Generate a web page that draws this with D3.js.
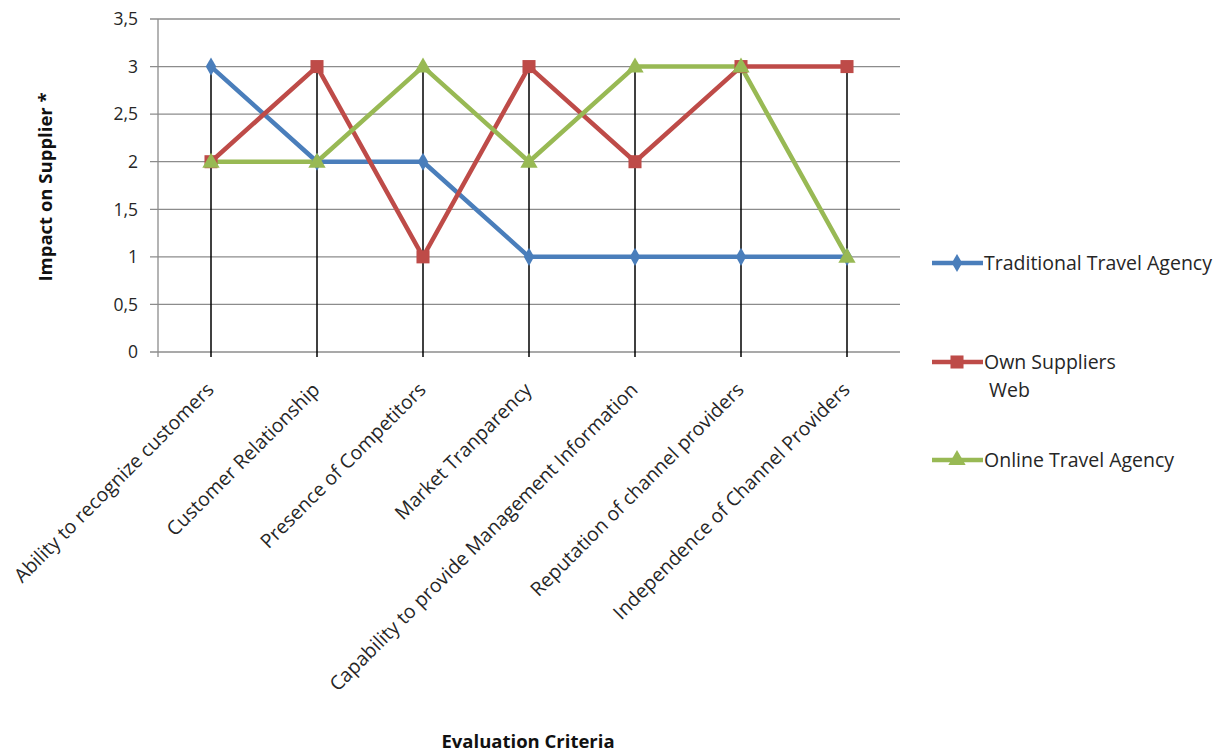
<!DOCTYPE html>
<html><head><meta charset="utf-8">
<script src="https://cdn.jsdelivr.net/npm/d3@7"></script>
<style>body{margin:0;background:#fff;} svg{display:block;font-family:"Open Sans",Lato,sans-serif;}</style>
</head><body><svg id="c" width="1229" height="752"></svg>
<script>
const categories = ["Ability to recognize customers","Customer Relationship","Presence of Competitors","Market Tranparency","Capability to provide Management Information","Reputation of channel providers","Independence of Channel Providers"];
const traditional = [3,2,2,1,1,1,1];
const ownWeb = [2,3,1,3,2,3,3];
const online = [2,2,3,2,3,3,1];
const yTicks = [0,0.5,1,1.5,2,2.5,3,3.5];
const seriesNames = ["Traditional Travel Agency","Own Suppliers Web","Online Travel Agency"];

const svg = d3.select("#c");
const L=158,R=900,T=19,B=352;
const x = d3.scaleBand().domain(categories).range([L,R]);
const y = d3.scaleLinear().domain([0,3.5]).range([B,T]);
const fmt = v => String(v).replace(".",",");
const txt = "#262626";

// gridlines
svg.append("g").selectAll("line").data(yTicks).join("line")
  .attr("x1",L-8).attr("x2",R).attr("y1",d=>y(d)).attr("y2",d=>y(d))
  .attr("stroke","#8c8c8c").attr("stroke-width",1.3);
svg.append("line").attr("x1",L).attr("x2",L).attr("y1",T).attr("y2",B+5).attr("stroke","#8c8c8c").attr("stroke-width",1.3);
svg.append("g").selectAll("text").data(yTicks).join("text")
  .attr("x",138).attr("y",d=>y(d)).attr("dy","0.36em").attr("text-anchor","end")
  .attr("font-size",17.5).attr("fill",txt).text(fmt);

const cx = d=>x(d)+x.bandwidth()/2;
// drop lines
const maxes = categories.map((c,i)=>Math.max(traditional[i],ownWeb[i],online[i]));
svg.append("g").selectAll("line").data(categories).join("line")
  .attr("x1",cx).attr("x2",cx).attr("y1",(d,i)=>y(maxes[i])).attr("y2",B+5)
  .attr("stroke","#000").attr("stroke-width",1.5);

const series = [
  {name:seriesNames[0],vals:traditional,color:"#4a7ebb",sym:d3.symbolDiamond,size:95},
  {name:seriesNames[1],vals:ownWeb,color:"#be4b48",sym:d3.symbolSquare,size:170},
  {name:seriesNames[2],vals:online,color:"#98b954",sym:d3.symbolTriangle,size:130},
];
const line = d3.line().x((d,i)=>cx(categories[i])).y(d=>y(d));
series.forEach(s=>{
  svg.append("path").attr("d",line(s.vals)).attr("fill","none").attr("stroke",s.color).attr("stroke-width",4.5).attr("stroke-linejoin","round");
});
series.forEach(s=>{
  svg.append("g").selectAll("path").data(s.vals).join("path")
    .attr("d",d3.symbol().type(s.sym).size(s.size))
    .attr("transform",(d,i)=>`translate(${cx(categories[i])},${y(d)+(s.sym===d3.symbolTriangle?1:0)})`)
    .attr("fill",s.color);
});

// category labels
svg.append("g").selectAll("text").data(categories).join("text")
  .attr("transform",d=>`translate(${cx(d)+4},${B+39}) rotate(-45)`)
  .attr("text-anchor","end").attr("font-size",19.5).attr("fill",txt).text(d=>d);

// axis titles
svg.append("text").attr("transform","translate(52,187) rotate(-90)").attr("text-anchor","middle")
  .attr("font-size",18.5).attr("font-weight","bold").attr("fill","#111").text("Impact on Supplier *");
svg.append("text").attr("x",528).attr("y",748).attr("text-anchor","middle")
  .attr("font-size",18.5).attr("font-weight","bold").attr("fill","#111").text("Evaluation  Criteria");

// legend
const legY = [263,362,460];
const lg = svg.append("g");
series.forEach((s,i)=>{
  const g = lg.append("g").attr("transform",`translate(0,${legY[i]})`);
  g.append("line").attr("x1",932).attr("x2",983).attr("y1",0).attr("y2",0).attr("stroke",s.color).attr("stroke-width",4.5);
  g.append("path").attr("d",d3.symbol().type(s.sym).size(s.size)).attr("transform","translate(957,0)").attr("fill",s.color);
  const t = g.append("text").attr("x",984).attr("y",0).attr("dy","0.36em").attr("font-size",19.5).attr("fill",txt);
  if(i===1){
    t.text("Own Suppliers");
    g.append("text").attr("x",989).attr("y",28).attr("dy","0.36em").attr("font-size",19.5).attr("fill",txt).text("Web");
  } else t.text(s.name);
});
</script></body></html>
